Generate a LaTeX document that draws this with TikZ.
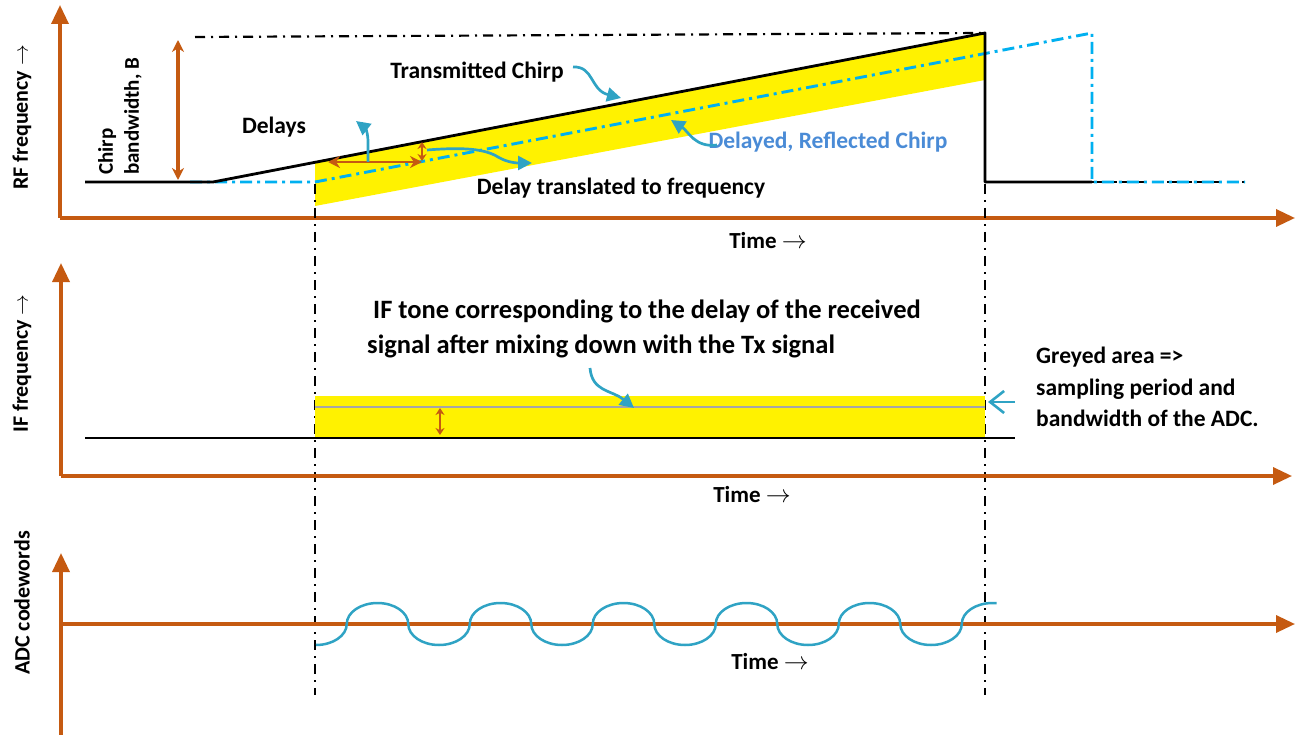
\documentclass[tikz,border=0pt]{standalone}
\usepackage{fontspec}
\setmainfont{Carlito}
\usetikzlibrary{arrows.meta}
\definecolor{axisbrown}{HTML}{C55A11}
\definecolor{tealarrow}{HTML}{2FA3C4}
\definecolor{skyblue}{HTML}{00B0F0}
\definecolor{labelblue}{HTML}{4A8BD6}
\definecolor{ifgrey}{HTML}{A6A6A6}
\begin{document}
\begin{tikzpicture}[x=1pt,y=-1pt,
  axis/.style={draw=axisbrown, line width=3.4pt, -{Triangle[length=19pt,width=17pt]}},
  chirp/.style={draw=black, line width=2.8pt, line join=round},
  rxline/.style={draw=skyblue, line width=2.9pt, dash pattern=on 12pt off 5pt on 3pt off 5pt},
  guide/.style={draw=black, line width=2.2pt, dash pattern=on 10pt off 6pt on 2pt off 6pt},
  callout/.style={draw=tealarrow, line width=2.7pt, -{Triangle[length=14pt,width=14pt]}},
  dim/.style={draw=axisbrown, line width=3.2pt, {Stealth[length=12pt,width=12pt]}-{Stealth[length=12pt,width=12pt]}},
  smalldim/.style={draw=axisbrown, line width=2.5pt, {Stealth[length=7pt,width=9pt]}-{Stealth[length=7pt,width=9pt]}},
  lbl/.style={font=\fontsize{23.5}{28}\selectfont\bfseries, inner sep=0pt},
  biglbl/.style={font=\fontsize{26.5}{32}\selectfont\bfseries, inner sep=0pt},
  timelbl/.style={font=\fontsize{23}{27}\selectfont\bfseries, inner sep=0pt},
  ylbl/.style={font=\fontsize{22}{27}\selectfont\bfseries, inner sep=0pt, rotate=90, anchor=west}
]
\useasboundingbox (0,0) rectangle (1308,735);

% ---------- top panel ----------
\fill[yellow] (315,162) -- (985,33) -- (985,80) -- (315,206) -- cycle;
\coordinate (o1) at (60,218);
\draw[axis] (o1) -- (1295,218);
\draw[axis] (o1) -- (60,5);
\node[ylbl] (rfl) at (22,190) {RF frequency $\rightarrow$};
\node[timelbl] (t1) at (768,241) {Time $\rightarrow$};

% guides
\draw[guide] (195,37) -- (985,33);
\draw[guide] (315,184) -- (315,695);
\draw[guide] (985,184) -- (985,695);

% delayed chirp (blue)
\draw[draw=black, line width=2.6pt, dash pattern=on 10pt off 5pt] (1092,182) -- (1245,182);
\draw[rxline] (190,182) -- (315,182) -- (1092,33) -- (1092,182) -- (1245,182);
% transmitted chirp
\draw[chirp] (85,182) -- (213,182) -- (985,33) -- (985,182) -- (1092,182);

% bandwidth
\draw[dim] (178,40) -- (178,180);
\node[font=\fontsize{21}{26}\selectfont\bfseries, inner sep=0pt, rotate=90, anchor=west, align=left] (bw) at (120,175) {Chirp\\bandwidth, B};

% delays
\draw[dim, line width=2.8pt] (328,162) -- (422,162);
\draw[smalldim] (422,142) -- (422,161);
\node[lbl] (dl) at (274,127) {Delays};
\draw[callout] (368,162) -- (368,142) .. controls (368,132) and (365,128) .. (356,121);
\draw[callout] (427,150) .. controls (465,147) and (485,149) .. (498,157) .. controls (508,163) and (518,163) .. (532,163);
\node[lbl] (dtf) at (621,188) {Delay translated to frequency};

\node[lbl] (tx) at (477,72) {Transmitted Chirp};
\draw[callout] (573,67) .. controls (594,66) and (590,90) .. (621,98);
\node[lbl, text=labelblue] (rxl) at (828,142) {Delayed, Reflected Chirp};
\draw[callout] (717,145) .. controls (695,148) and (688,131) .. (671,120);

% ---------- middle panel ----------
\fill[yellow] (315,396) rectangle (985,438);
\draw[ifgrey, line width=2.4pt] (315,407) -- (985,407);
\draw[black, line width=2.6pt] (85,438) -- (1015,438);
\coordinate (o2) at (61,476);
\draw[axis] (o2) -- (1292,476);
\draw[axis] (o2) -- (61,263);
\node[ylbl] (ifl) at (22,433) {IF frequency $\rightarrow$};
\node[timelbl] (t2) at (752,495) {Time $\rightarrow$};
\draw[smalldim] (440,408) -- (440,435);
\node[biglbl, anchor=west] (if1) at (373,311) {IF tone corresponding to the delay of the received};
\node[biglbl, anchor=west] (if2) at (367,346) {signal after mixing down with the Tx signal};
\draw[callout] (590,368) .. controls (592,392) and (612,390) .. (634,408);
\node[lbl, anchor=west, align=left, font=\fontsize{23.5}{31.5}\selectfont\bfseries] (gr) at (1036,387) {Greyed area =>\\sampling period and\\bandwidth of the ADC.};
\draw[draw=tealarrow, line width=2.6pt, -{Straight Barb[length=14pt,width=22pt]}] (1015,402) -- (988,402);

% ---------- bottom panel ----------
\coordinate (o3) at (61,624);
\draw[axis] (61,735) -- (61,553);
\draw[axis] (o3) -- (1295,624);
\node[ylbl] (adcl) at (22,675) {ADC codewords};
\node[timelbl] (t3) at (770,662) {Time $\rightarrow$};
\draw[tealarrow, line width=2.5pt]
  (316,645) arc[start angle=90, end angle=0, x radius=30.75, y radius=21]
  arc[start angle=180, end angle=360, x radius=30.75, y radius=21]
  arc[start angle=180, end angle=0, x radius=30.75, y radius=21]
  arc[start angle=180, end angle=360, x radius=30.75, y radius=21]
  arc[start angle=180, end angle=0, x radius=30.75, y radius=21]
  arc[start angle=180, end angle=360, x radius=30.75, y radius=21]
  arc[start angle=180, end angle=0, x radius=30.75, y radius=21]
  arc[start angle=180, end angle=360, x radius=30.75, y radius=21]
  arc[start angle=180, end angle=0, x radius=30.75, y radius=21]
  arc[start angle=180, end angle=360, x radius=30.75, y radius=21]
  arc[start angle=180, end angle=0, x radius=30.75, y radius=21]
  arc[start angle=180, end angle=270, x radius=30.75, y radius=21] -- ++(4,0);
\end{tikzpicture}
\end{document}
